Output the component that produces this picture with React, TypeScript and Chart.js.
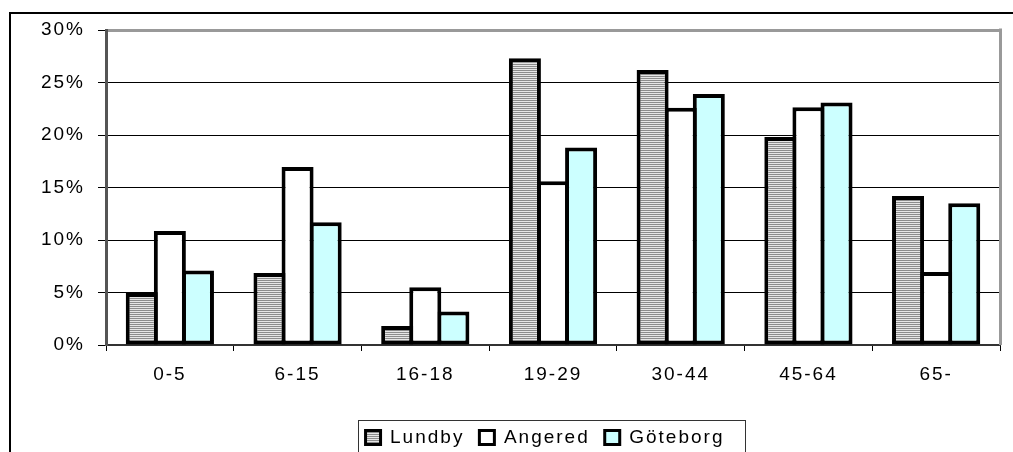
import React, { useEffect, useRef } from 'react';
import { Chart, registerables } from 'chart.js';

Chart.register(...registerables);

const categories = ['0-5', '6-15', '16-18', '19-29', '30-44', '45-64', '65-'];
const seriesNames = ['Lundby', 'Angered', 'Göteborg'];
const lundbyValues = [4.95, 6.85, 1.8, 27.3, 26.2, 19.8, 14.2];
const angeredValues = [10.85, 16.95, 5.5, 15.6, 22.6, 22.65, 6.95];
const goteborgValues = [7.1, 11.7, 3.2, 18.8, 23.9, 23.1, 13.5];
const yMin = 0;
const yMax = 30;
const yStep = 5;

const FONT = "'Liberation Sans', Arial, Helvetica, sans-serif";
const LETTER_SPACING = '2px';
const LEGEND_SHIFT = 90;

function makeStripes(ctx: CanvasRenderingContext2D) {
  const c = document.createElement('canvas');
  c.width = 4;
  c.height = 2;
  const g = c.getContext('2d')!;
  g.fillStyle = '#e6e6e6';
  g.fillRect(0, 0, 4, 2);
  g.fillStyle = '#8c8c8c';
  g.fillRect(0, 0, 4, 1);
  return ctx.createPattern(c, 'repeat');
}

const spacingPlugin = {
  id: 'letterSpacing',
  beforeUpdate(chart: any) {
    chart.ctx.letterSpacing = LETTER_SPACING;
  },
  beforeLayout(chart: any) {
    chart.ctx.letterSpacing = LETTER_SPACING;
  },
  afterLayout(chart: any) {
    if (chart.legend) {
      chart.legend.left = LEGEND_SHIFT;
    }
  },
  beforeDraw(chart: any) {
    chart.ctx.letterSpacing = LETTER_SPACING;
  },
};

const framePlugin = {
  id: 'frameAndLegendBox',
  afterDraw(chart: any) {
    const { ctx, chartArea } = chart;
    ctx.save();
    ctx.strokeStyle = '#999';
    ctx.lineWidth = 3;
    ctx.beginPath();
    ctx.moveTo(chartArea.right + 0.5, chartArea.top - 1.5);
    ctx.lineTo(chartArea.right + 0.5, chartArea.bottom);
    ctx.stroke();

    const lg = chart.legend;
    const boxes = lg && lg.legendHitBoxes;
    if (boxes && boxes.length) {
      const first = boxes[0];
      const last = boxes[boxes.length - 1];
      const left = first.left - 8;
      const right = last.left + last.width + 20;
      const cy = first.top + first.height / 2;
      ctx.strokeStyle = '#333';
      ctx.lineWidth = 1;
      ctx.strokeRect(Math.round(left) + 0.5, Math.round(cy - 17.5) + 0.5, Math.round(right - left), 34);
    }
    ctx.restore();
  },
};

export default function App() {
  const canvasRef = useRef<HTMLCanvasElement | null>(null);

  useEffect(() => {
    const canvas = canvasRef.current!;
    const ctx = canvas.getContext('2d')!;
    const stripes = makeStripes(ctx);
    const font = { family: FONT, size: 19 };

    const chart = new Chart(canvas, {
      type: 'bar',
      data: {
        labels: categories,
        datasets: [
          {
            label: seriesNames[0],
            data: lundbyValues,
            backgroundColor: stripes as any,
            borderColor: '#000',
            borderWidth: 4,
            borderSkipped: false,
            categoryPercentage: 0.66,
            barPercentage: 1.14,
          },
          {
            label: seriesNames[1],
            data: angeredValues,
            backgroundColor: '#ffffff',
            borderColor: '#000',
            borderWidth: 4,
            borderSkipped: false,
            categoryPercentage: 0.66,
            barPercentage: 1.14,
          },
          {
            label: seriesNames[2],
            data: goteborgValues,
            backgroundColor: '#ccffff',
            borderColor: '#000',
            borderWidth: 4,
            borderSkipped: false,
            categoryPercentage: 0.66,
            barPercentage: 1.14,
          },
        ],
      },
      options: {
        animation: false,
        responsive: false,
        maintainAspectRatio: false,
        layout: { padding: { left: 0, right: 13, top: 30, bottom: 0 } },
        plugins: {
          tooltip: { enabled: false },
          legend: {
            position: 'bottom',
            maxHeight: 39,
            labels: {
              boxWidth: 15,
              boxHeight: 14,
              padding: 15,
              color: '#000',
              font,
              generateLabels: (c: any) => {
                const items = (Chart.defaults.plugins.legend.labels as any).generateLabels(c);
                return items.map((it: any) => ({ ...it, lineWidth: 3, strokeStyle: '#000' }));
              },
            },
          },
        },
        scales: {
          x: {
            offset: true,
            grid: {
              offset: true,
              drawOnChartArea: false,
              drawTicks: true,
              tickLength: 6,
              tickColor: '#000',
              tickWidth: 1,
            },
            border: { color: '#333', width: 2 },
            ticks: { color: '#000', font, padding: 12, maxRotation: 0, autoSkip: false },
            afterFit: (s: any) => {
              s.height = 68;
            },
          },
          y: {
            min: yMin,
            max: yMax,
            ticks: {
              stepSize: yStep,
              color: '#000',
              font,
              padding: 13,
              callback: (v: any) => v + '%',
            },
            grid: {
              color: (c: any) => (c.tick && c.tick.value === yMax ? '#999' : '#000'),
              lineWidth: (c: any) => (c.tick && c.tick.value === yMax ? 3 : 1),
              tickColor: '#000',
              tickLength: 8,
              tickWidth: 1,
            },
            border: { color: '#555', width: 3 },
            afterFit: (s: any) => {
              s.width = 106;
            },
          },
        },
      },
      plugins: [spacingPlugin, framePlugin],
    } as any);

    return () => chart.destroy();
  }, []);

  return (
    <div style={{ position: 'absolute', left: 0, top: 0, width: 1013, height: 452, overflow: 'hidden', background: '#fff' }}>
      <div
        style={{
          position: 'absolute',
          left: 9,
          top: 12,
          width: 1200,
          height: 700,
          borderTop: '2px solid #000',
          borderLeft: '2px solid #000',
          boxSizing: 'border-box',
        }}
      />
      <canvas ref={canvasRef} width={1013} height={452} style={{ position: 'absolute', left: 0, top: 0 }} />
    </div>
  );
}
